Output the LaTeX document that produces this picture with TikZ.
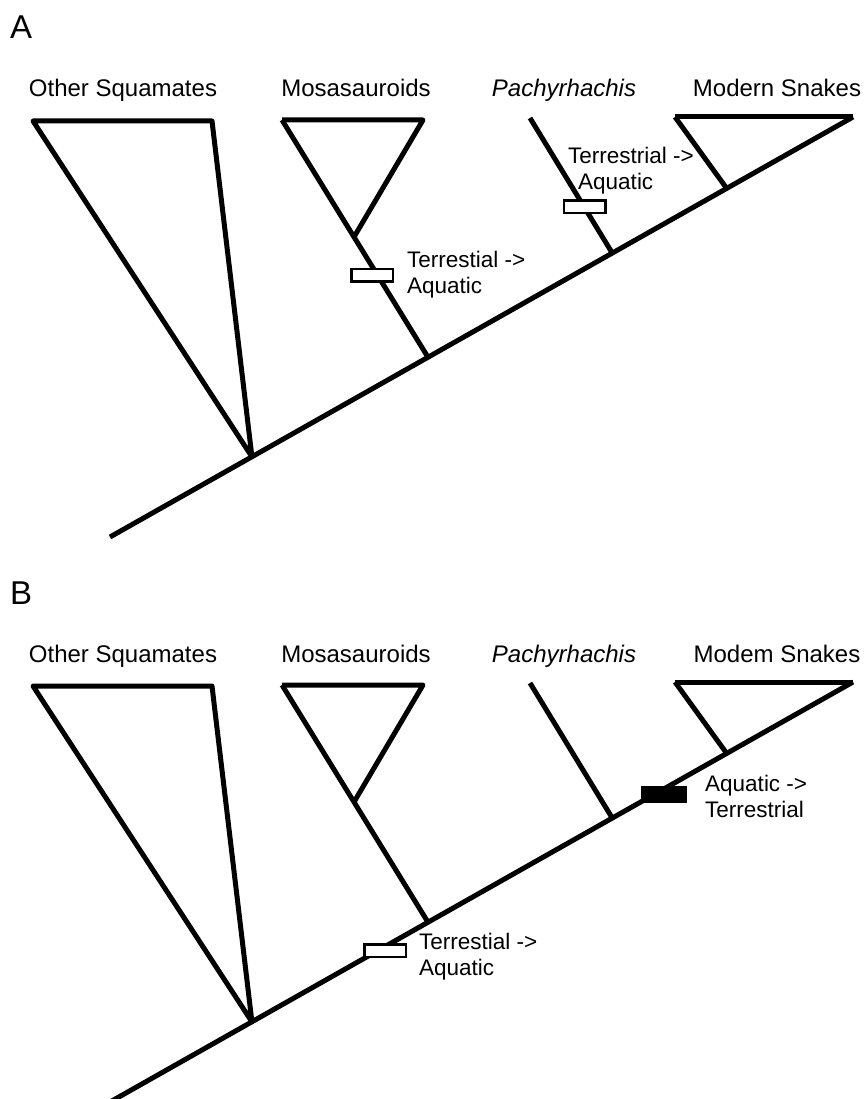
\documentclass[tikz,border=0pt]{standalone}
\usepackage{fontspec}
\setmainfont{Liberation Sans}

\tikzset{
  branch/.style={line width=5pt, line join=round},
  clade/.style={font=\fontsize{24}{26}\selectfont, anchor=base, inner sep=0pt},
  panel/.style={font=\fontsize{33}{36}\selectfont, anchor=base west, inner sep=0pt},
  change/.style={font=\fontsize{22.5}{26}\selectfont, anchor=north west, align=left, inner sep=0pt},
  openbar/.style={draw, line width=2.5pt, fill=white, minimum width=41.5pt, minimum height=12.5pt, inner sep=0pt},
  solidbar/.style={draw, line width=1pt, fill=black, minimum width=45pt, minimum height=16pt, inner sep=0pt}
}

\begin{document}
\begin{tikzpicture}[x=1pt,y=-1pt]
\useasboundingbox (0,0) rectangle (865,1099);
% the same tree in both panels
\foreach \p/\dy/\mn in {A/0/Modern,B/565/Modem} {
  \begin{scope}[yshift=-\dy pt]
    \path (110,537) coordinate (\p-root)
      -- coordinate[pos=0.191] (\p-sq) coordinate[pos=0.428] (\p-mo)
         coordinate[pos=0.676] (\p-pa) coordinate[pos=0.830] (\p-mn)
      (853,117) coordinate (\p-tip);
    \coordinate (\p-sqL) at (33,121);
    \coordinate (\p-sqR) at (212,121);
    \coordinate (\p-moL) at (282,120);
    \coordinate (\p-moR) at (423,120);
    \coordinate (\p-moIn) at (354,237);
    \coordinate (\p-paT) at (530,118);
    \coordinate (\p-mnL) at (675,117);
    \draw[branch] (\p-root) -- (\p-tip);
    \draw[branch] (\p-sqL) -- (\p-sqR) -- (\p-sq) -- cycle;
    \draw[branch] (\p-moL) -- (\p-mo);
    \draw[branch] (\p-moL) -- (\p-moR) -- (\p-moIn);
    \draw[branch] (\p-paT) -- (\p-pa);
    \draw[branch] (\p-mnL) -- (\p-tip);
    \draw[branch] (\p-mnL) -- (\p-mn);
    \node[panel] (\p-label) at (10,39) {\p};
    \node[clade] (\p-sqname) at (123,97) {Other Squamates};
    \node[clade] (\p-moname) at (356,97) {Mosasauroids};
    \node[clade] (\p-paname) at (564,97) {\textit{Pachyrhachis}};
    \node[clade] (\p-mnname) at (777,97) {\mn\ Snakes};
  \end{scope}
}
% panel A: two separate changes
\node[openbar] (A-moshift) at (372,275) {};
\node[change] (A-motext) at (407,251) {Terrestial ->\\Aquatic};
\node[openbar] (A-pashift) at (584.5,207) {};
\node[change] (A-patext) at (568,147) {Terrestrial ->\\\hspace*{10pt}Aquatic};
% panel B: one change and a reversal
\node[openbar] (B-shift) at (385,950.5) {};
\node[change] (B-shifttext) at (419,933) {Terrestial ->\\Aquatic};
\node[solidbar] (B-revert) at (664,794.5) {};
\node[change] (B-reverttext) at (705,775) {Aquatic ->\\Terrestrial};
\end{tikzpicture}
\end{document}
